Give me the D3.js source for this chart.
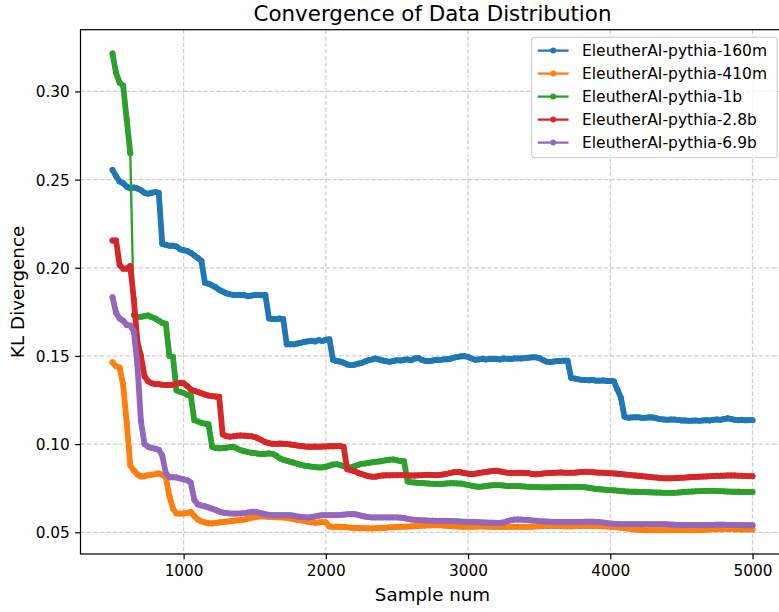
<!DOCTYPE html>
<html>
<head>
<meta charset="utf-8">
<script src="https://cdn.jsdelivr.net/npm/d3@7"></script>
<style>
  html, body { margin: 0; padding: 0; background: #fff; }
  svg { display: block; font-family: "DejaVu Sans", sans-serif; }
</style>
</head>
<body>
<svg id="chart" width="779" height="612"></svg>
<script>
// ---------------- data ----------------
const chartTitle = "Convergence of Data Distribution";
const xLabel = "Sample num";
const yLabel = "KL Divergence";
const seriesNames = ["EleutherAI-pythia-160m", "EleutherAI-pythia-410m", "EleutherAI-pythia-1b", "EleutherAI-pythia-2.8b", "EleutherAI-pythia-6.9b"];
const seriesColors = ["#1f77b4", "#ff7f0e", "#2ca02c", "#d62728", "#9467bd"];
const xTickValues = [1000, 2000, 3000, 4000, 5000];
const yTickValues = [0.05, 0.10, 0.15, 0.20, 0.25, 0.30];
// sample numbers 500, 525, ..., 5000
const sampleNums = d3.range(500, 5001, 25);

const pythia160m = [
  0.2555,0.252,0.249,0.248,0.246,0.245,0.2455,0.245,0.244,0.2425,0.242,0.2425,0.243,0.2425,0.2135,0.213,0.2125,0.2125,0.212,0.2105,
  0.2100,0.2095,0.2085,0.207,0.2055,0.204,0.1915,0.191,0.190,0.189,0.1875,0.1865,0.1855,0.185,0.1846,0.1846,0.1846,0.1845,0.1838,0.1842,
  0.1846,0.1846,0.1844,0.1846,0.1713,0.171,0.171,0.1712,0.171,0.1566,0.1566,0.1566,0.157,0.1575,0.158,0.1583,0.1586,0.1582,0.159,0.1585,
  0.1592,0.1594,0.1478,0.1472,0.1468,0.1462,0.1452,0.1448,0.145,0.1456,0.146,0.1468,0.1476,0.148,0.1486,0.148,0.1474,0.147,0.1467,0.1472,
  0.1476,0.1474,0.1478,0.148,0.1476,0.1486,0.1488,0.1478,0.1472,0.1471,0.1474,0.1478,0.1477,0.148,0.1481,0.1484,0.149,0.1494,0.1498,0.1499,
  0.1494,0.1486,0.1478,0.148,0.1484,0.148,0.1482,0.1484,0.1482,0.148,0.1486,0.1484,0.1482,0.1486,0.1486,0.1486,0.1488,0.149,0.1492,0.1492,
  0.1488,0.1478,0.1468,0.1466,0.1468,0.147,0.1472,0.1473,0.1473,0.1375,0.1372,0.1368,0.1364,0.1363,0.1362,0.1364,0.136,0.136,0.1361,0.1358,
  0.1359,0.1356,0.131,0.1262,0.1155,0.115,0.1151,0.1153,0.1152,0.1148,0.115,0.1152,0.1151,0.1146,0.1142,0.114,0.1138,0.114,0.1139,0.1137,
  0.1134,0.1134,0.1132,0.1133,0.1134,0.1132,0.1134,0.1136,0.1134,0.1138,0.114,0.1138,0.1142,0.1146,0.1142,0.1138,0.1136,0.1138,0.1135,0.1136,
  0.1136
];
const pythia410m = [
  0.1464,0.1442,0.1434,0.1335,0.112,0.088,0.085,0.0828,0.0816,0.0818,0.0824,0.0826,0.083,0.0834,0.0826,0.0812,0.0705,0.0635,0.0607,0.0606,
  0.0607,0.061,0.0615,0.0592,0.0572,0.0562,0.0556,0.0551,0.055,0.0553,0.0556,0.0559,0.056,0.0563,0.0565,0.0567,0.0569,0.0572,0.0577,0.0582,
  0.0586,0.059,0.0591,0.0589,0.0587,0.0586,0.0585,0.0585,0.0584,0.0582,0.0578,0.0574,0.0571,0.0568,0.0564,0.056,0.0557,0.0554,0.0556,0.0559,
  0.0556,0.0533,0.0531,0.0532,0.0531,0.053,0.0528,0.0526,0.0525,0.0524,0.0524,0.0523,0.0522,0.0522,0.0523,0.0524,0.0525,0.0526,0.0528,0.0529,
  0.053,0.0531,0.0532,0.0532,0.0533,0.0535,0.0536,0.0537,0.0538,0.0539,0.054,0.054,0.054,0.0539,0.0537,0.0535,0.0534,0.0533,0.0532,0.0531,
  0.0531,0.0531,0.0532,0.0533,0.0533,0.0532,0.0531,0.0531,0.053,0.053,0.053,0.0531,0.0531,0.0531,0.0531,0.0531,0.0531,0.0531,0.0532,0.0533,
  0.0534,0.0535,0.0535,0.0535,0.0535,0.0535,0.0535,0.0534,0.0534,0.0534,0.0535,0.0535,0.0535,0.0536,0.0536,0.0535,0.0535,0.0535,0.0534,0.0533,
  0.0532,0.053,0.0528,0.0526,0.0524,0.0521,0.0518,0.0516,0.0514,0.0513,0.0512,0.0512,0.0512,0.0512,0.0512,0.0512,0.0512,0.0512,0.0513,0.0513,
  0.0513,0.0512,0.0512,0.0512,0.0512,0.0513,0.0514,0.0515,0.0516,0.0517,0.0517,0.0517,0.0518,0.0518,0.0518,0.0517,0.0517,0.0516,0.0516,0.0516,
  0.0516
];
const pythia1b = [
  0.3215,0.3104,0.305,0.3032,0.2839,0.265,0.1732,0.1722,0.1722,0.1726,0.173,0.172,0.1712,0.170,0.1688,0.1682,0.15,0.1495,0.1305,0.1297,
  0.129,0.128,0.1276,0.1136,0.1128,0.1121,0.1116,0.1112,0.0985,0.0978,0.0976,0.0978,0.098,0.0983,0.0985,0.0975,0.0966,0.096,0.0955,0.0951,
  0.0949,0.0946,0.0944,0.0945,0.0947,0.0945,0.0935,0.092,0.0912,0.0906,0.09,0.0895,0.0888,0.0882,0.0878,0.0875,0.0872,0.087,0.0868,0.0868,
  0.0872,0.0878,0.0884,0.0886,0.0882,0.0875,0.0868,0.0868,0.0874,0.0882,0.0888,0.089,0.0893,0.0897,0.09,0.0902,0.0905,0.0909,0.0912,0.0913,
  0.0908,0.0904,0.0903,0.0788,0.0784,0.0782,0.078,0.078,0.0778,0.0776,0.0775,0.0774,0.0773,0.0775,0.0777,0.0778,0.0778,0.0777,0.0776,0.0772,
  0.0768,0.0764,0.076,0.0758,0.0759,0.0762,0.0765,0.0767,0.0767,0.0767,0.0765,0.0763,0.0762,0.0762,0.0762,0.0761,0.0759,0.0758,0.0758,0.0757,
  0.0756,0.0755,0.0755,0.0755,0.0756,0.0757,0.0757,0.0757,0.0757,0.0758,0.0758,0.0758,0.0757,0.0755,0.0752,0.0749,0.0746,0.0744,0.0742,0.074,
  0.0739,0.0738,0.0736,0.0734,0.0732,0.0731,0.073,0.073,0.0729,0.0729,0.0728,0.0727,0.0726,0.0725,0.0725,0.0724,0.0724,0.0724,0.0724,0.0725,
  0.0727,0.0729,0.073,0.0731,0.0732,0.0733,0.0734,0.0734,0.0735,0.0735,0.0734,0.0733,0.0732,0.0731,0.073,0.073,0.073,0.0729,0.0729,0.0729,
  0.0729
];
const pythia2_8b = [
  0.2154,0.2155,0.2016,0.1995,0.1995,0.201,0.182,0.158,0.150,0.1385,0.1356,0.1345,0.134,0.134,0.1336,0.1335,0.1335,0.1336,0.1342,0.1348,
  0.1345,0.133,0.131,0.1302,0.1295,0.1288,0.1281,0.1275,0.1272,0.127,0.1268,0.1055,0.1045,0.1042,0.1044,0.1048,0.1049,0.1048,0.1046,0.1045,
  0.104,0.1032,0.1022,0.1012,0.1005,0.1002,0.1001,0.1003,0.1002,0.1,0.0998,0.0995,0.0992,0.099,0.0987,0.0985,0.0985,0.0986,0.0985,0.0986,
  0.0987,0.0988,0.0988,0.0989,0.0989,0.0985,0.0858,0.0852,0.0847,0.0838,0.083,0.0824,0.0818,0.0815,0.0815,0.082,0.0822,0.0823,0.0823,0.0824,
  0.0824,0.0824,0.0824,0.0823,0.0822,0.0822,0.0823,0.0824,0.0825,0.0826,0.0825,0.0824,0.0825,0.0828,0.0832,0.0836,0.0841,0.0843,0.084,0.0835,
  0.0832,0.083,0.0832,0.0836,0.0839,0.0842,0.0845,0.0847,0.0849,0.0845,0.0841,0.0838,0.0836,0.0836,0.0837,0.0837,0.0836,0.0835,0.0831,0.0829,
  0.083,0.0833,0.0835,0.0836,0.0837,0.0838,0.0839,0.0838,0.0837,0.0837,0.0838,0.084,0.0842,0.0843,0.0843,0.0841,0.0839,0.0838,0.0837,0.0836,
  0.0835,0.0834,0.0832,0.083,0.0828,0.0826,0.0824,0.0822,0.082,0.0818,0.0816,0.0814,0.0812,0.081,0.0808,0.0806,0.0806,0.0806,0.0807,0.0808,
  0.0809,0.081,0.0812,0.0813,0.0814,0.0815,0.0816,0.0817,0.0818,0.0819,0.082,0.082,0.0821,0.0822,0.0822,0.0822,0.0821,0.082,0.0819,0.0818,
  0.0818
];
const pythia6_9b = [
  0.1833,0.1745,0.1712,0.17,0.1675,0.1672,0.164,0.145,0.113,0.1,0.0985,0.0978,0.0974,0.0968,0.0935,0.0835,0.0812,0.0812,0.0811,0.0805,
  0.08,0.0795,0.0782,0.0685,0.0658,0.0652,0.0647,0.0641,0.0634,0.0626,0.0618,0.0612,0.0609,0.0607,0.0606,0.0606,0.0607,0.0609,0.0612,0.0615,
  0.0616,0.0612,0.0607,0.0602,0.0599,0.0597,0.0597,0.0597,0.0597,0.0597,0.0597,0.0594,0.059,0.0587,0.0585,0.0584,0.0586,0.059,0.0594,0.0597,
  0.0597,0.0597,0.0597,0.0597,0.0598,0.06,0.0602,0.0603,0.0603,0.0599,0.0594,0.0589,0.0586,0.0584,0.0584,0.0584,0.0584,0.0584,0.0584,0.0584,
  0.0584,0.0583,0.058,0.0576,0.0573,0.0571,0.0569,0.0568,0.0567,0.0566,0.0566,0.0565,0.0565,0.0565,0.0565,0.0564,0.0563,0.0562,0.0561,0.056,
  0.0559,0.0559,0.0558,0.0557,0.0556,0.0555,0.0554,0.0554,0.0553,0.0553,0.0556,0.0562,0.0568,0.0572,0.0573,0.0572,0.057,0.0569,0.0567,0.0565,
  0.0563,0.0562,0.0561,0.056,0.0559,0.0559,0.0559,0.0559,0.0559,0.0559,0.0559,0.0559,0.0559,0.056,0.056,0.056,0.0559,0.0557,0.0555,0.0552,
  0.055,0.0548,0.0547,0.0546,0.0546,0.0546,0.0546,0.0546,0.0546,0.0546,0.0546,0.0546,0.0546,0.0546,0.0546,0.0546,0.0545,0.0544,0.0543,0.0542,
  0.0542,0.0541,0.0541,0.0541,0.0541,0.0541,0.0541,0.0542,0.0542,0.0542,0.0543,0.0543,0.0543,0.0542,0.0542,0.0542,0.0541,0.0541,0.054,0.054,
  0.054
];
const seriesValues = [pythia160m, pythia410m, pythia1b, pythia2_8b, pythia6_9b];

// ---------------- layout ----------------
const svg = d3.select("#chart");
const plot = { left: 80.5, right: 784.5, top: 29.7, bottom: 554 };
const tickFont = 15.3, labelFont = 18.3, titleFont = 21.4, legendFont = 15.5;
const tickLen = 5.35, tickPad = 5.35, spineW = 1.22;

const xMin = d3.min(sampleNums), xMax = d3.max(sampleNums);
const xPad = (xMax - xMin) * 0.05;
const allVals = seriesValues.flat();
const yMin = d3.min(allVals), yMax = d3.max(allVals);
const yPad = (yMax - yMin) * 0.05;

const x = d3.scaleLinear().domain([xMin - xPad, xMax + xPad]).range([plot.left, plot.right]);
const y = d3.scaleLinear().domain([yMin - yPad, yMax + yPad]).range([plot.bottom, plot.top]);

// grid
const grid = svg.append("g").attr("stroke", "#d0d0d0").attr("stroke-width", 1.22).attr("stroke-dasharray", "4.5,1.96");
grid.selectAll("line.gx").data(xTickValues).join("line")
  .attr("x1", d => x(d)).attr("x2", d => x(d)).attr("y1", plot.top).attr("y2", plot.bottom);
grid.selectAll("line.gy").data(yTickValues).join("line")
  .attr("y1", d => y(d)).attr("y2", d => y(d)).attr("x1", plot.left).attr("x2", plot.right);

// series
const thinLine = d3.line().x((d, i) => x(sampleNums[i])).y(d => y(d));
const seriesG = svg.append("g");
const bigJump = 100; // px: very steep single jumps are drawn as a plain line, not the dense marker band
seriesValues.forEach((vals, k) => {
  const g = seriesG.append("g");
  const pts = vals.map((v, i) => [x(sampleNums[i]), y(v)]);
  // dense-marker band, split at very large jumps
  const runs = [];
  let cur = [pts[0]];
  for (let i = 1; i < pts.length; i++) {
    if (Math.abs(pts[i][1] - pts[i - 1][1]) > bigJump) { runs.push(cur); cur = [pts[i]]; }
    else cur.push(pts[i]);
  }
  runs.push(cur);
  g.append("path").datum(vals)
    .attr("d", thinLine)
    .attr("fill", "none")
    .attr("stroke", seriesColors[k])
    .attr("stroke-width", 2.3);
  runs.forEach(run => {
    g.append("path").datum(run)
      .attr("d", d3.line())
      .attr("fill", "none")
      .attr("stroke", seriesColors[k])
      .attr("stroke-width", 5.8)
      .attr("stroke-linejoin", "round")
      .attr("stroke-linecap", "round");
  });
  g.selectAll("circle").data(vals).join("circle")
    .attr("cx", (d, i) => x(sampleNums[i]))
    .attr("cy", d => y(d))
    .attr("r", 3)
    .attr("fill", seriesColors[k]);
});

// axes (d3 axes, styled matplotlib-like)
const xAxis = d3.axisBottom(x).tickValues(xTickValues).tickFormat(d3.format("d")).tickSizeOuter(0).tickSize(tickLen).tickPadding(tickPad);
const yAxis = d3.axisLeft(y).tickValues(yTickValues).tickFormat(d3.format(".2f")).tickSizeOuter(0).tickSize(tickLen).tickPadding(tickPad);

const gx = svg.append("g").attr("transform", `translate(0,${plot.bottom})`).call(xAxis);
const gy = svg.append("g").attr("transform", `translate(${plot.left},0)`).call(yAxis);
[gx, gy].forEach(g => {
  g.select(".domain").remove();
  g.selectAll(".tick line").attr("stroke", "#000").attr("stroke-width", spineW);
  g.selectAll(".tick text").attr("fill", "#000").attr("font-size", tickFont).attr("font-family", "DejaVu Sans");
});
gx.selectAll(".tick text").attr("dy", null).attr("y", tickLen + tickPad).attr("dominant-baseline", "hanging");
gy.selectAll(".tick text").attr("dy", "0.36em");

// spines
svg.append("rect")
  .attr("x", plot.left).attr("y", plot.top)
  .attr("width", plot.right - plot.left).attr("height", plot.bottom - plot.top)
  .attr("fill", "none").attr("stroke", "#000").attr("stroke-width", spineW);

// title & labels
svg.append("text").attr("x", (plot.left + plot.right) / 2).attr("y", 20.5)
  .attr("text-anchor", "middle").attr("font-size", titleFont).attr("fill", "#000").text(chartTitle);
svg.append("text").attr("x", (plot.left + plot.right) / 2).attr("y", 601)
  .attr("text-anchor", "middle").attr("font-size", labelFont).attr("fill", "#000").text(xLabel);
svg.append("text")
  .attr("transform", `translate(23.5,${(plot.top + plot.bottom) / 2}) rotate(-90)`)
  .attr("text-anchor", "middle").attr("font-size", labelFont).attr("fill", "#000").text(yLabel);

// legend
const leg = svg.append("g");
const legBox = { x: 531.7, y: 37.3, w: 245.5, h: 120.4 };
leg.append("rect").attr("x", legBox.x).attr("y", legBox.y).attr("width", legBox.w).attr("height", legBox.h)
  .attr("rx", 3).attr("ry", 3)
  .attr("fill", "#fff").attr("fill-opacity", 0.8)
  .attr("stroke", "#cccccc").attr("stroke-width", 1.1);
seriesNames.forEach((name, k) => {
  const cy = 50.6 + k * 23;
  leg.append("line").attr("x1", 537.8).attr("x2", 568.6).attr("y1", cy).attr("y2", cy)
    .attr("stroke", seriesColors[k]).attr("stroke-width", 2.3);
  leg.append("circle").attr("cx", 553.2).attr("cy", cy).attr("r", 3).attr("fill", seriesColors[k]);
  leg.append("text").attr("x", 582).attr("y", cy).attr("dy", "0.36em")
    .attr("font-size", legendFont).attr("fill", "#000").text(name);
});
</script>
</body>
</html>
